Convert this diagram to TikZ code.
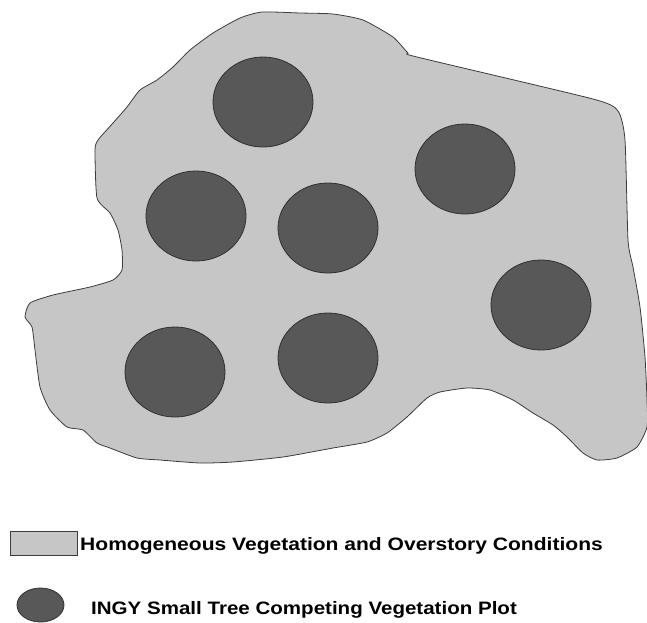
\documentclass[tikz,border=0pt]{standalone}
\usepackage{fontspec}
\setsansfont{Liberation Sans}
\usetikzlibrary{shapes.geometric}

\definecolor{standfill}{RGB}{198,198,198}
\definecolor{plotfill}{RGB}{88,88,88}
\definecolor{edgegray}{RGB}{60,60,60}

\newcommand{\keylabel}[2]{\scalebox{#1}[1]{#2}}

\begin{document}
\begin{tikzpicture}[
  x=1pt, y=-1pt,
  font=\sffamily\bfseries\fontsize{18}{21}\selectfont,
  stand/.style={fill=standfill, draw=edgegray, line width=0.8pt},
  plotcirc/.style={ellipse, fill=plotfill, draw=edgegray!80!black, line width=0.8pt,
    inner sep=0pt, minimum width=100pt, minimum height=90pt},
  keytext/.style={anchor=base west, inner sep=0pt, text=black}
]
\useasboundingbox (0,0) rectangle (647,622);

% homogeneous stand outline
\draw[stand] plot[smooth cycle, tension=0.35] coordinates {
  (262,12) (300,13) (333,14) (363,20) (393,37) (408,53) (417,57)
  (593,99) (618,111) (625,140) (628,240) (633,267) (640,307) (645,357)
  (647,400) (647,427) (637,447) (617,458) (597,460) (583,453) (567,437)
  (553,425) (533,413) (513,400) (490,390) (467,388) (440,392) (427,398)
  (407,417) (387,433) (367,442) (333,448) (283,457) (233,462) (200,463)
  (160,460) (137,458) (110,448) (97,443) (83,430) (67,427) (50,410)
  (40,387) (35,350) (32,327) (25,317) (30,303) (53,295) (90,287)
  (113,280) (122,270) (122,250) (118,230) (110,213) (97,198) (95,150)
  (98,140) (113,123) (127,107) (140,90) (157,80) (173,67) (190,50)
  (213,33) (240,18)};

% competing vegetation plots
\node[plotcirc] (plotA) at (263,102) {};
\node[plotcirc] (plotB) at (196,216) {};
\node[plotcirc] (plotC) at (328,228) {};
\node[plotcirc] (plotD) at (465,169) {};
\node[plotcirc] (plotE) at (541,305) {};
\node[plotcirc] (plotF) at (175,372) {};
\node[plotcirc] (plotG) at (328,358) {};

% legend
\node[draw=edgegray, fill=standfill, line width=0.8pt, minimum width=67pt, minimum height=24pt,
  inner sep=0pt] (keystand) at (43.5,543) {};
\node[keytext] (keystandtxt) at (80,550) {\keylabel{1.169}{Homogeneous Vegetation and Overstory Conditions}};
\node[plotcirc, minimum width=47pt, minimum height=34pt] (keyplot) at (40.5,605) {};
\node[keytext] (keyplottxt) at (91,614) {\keylabel{1.141}{INGY Small Tree Competing Vegetation Plot}};
\end{tikzpicture}
\end{document}
